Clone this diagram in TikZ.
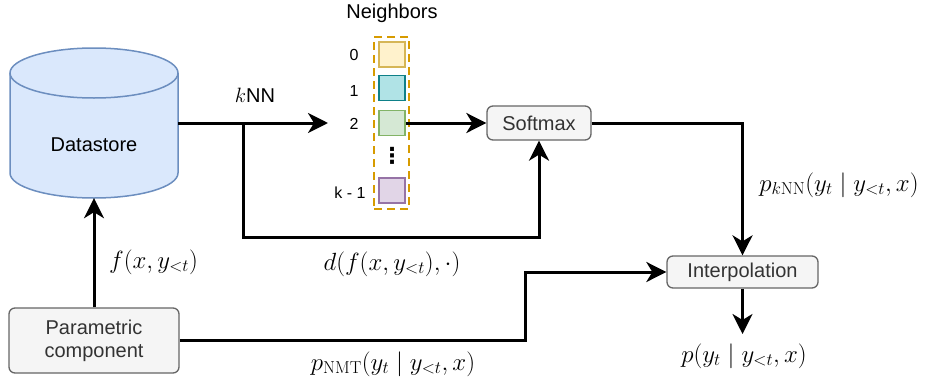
\documentclass[tikz,border=0pt]{standalone}
\usepackage[no-math]{fontspec}
\setmainfont{Liberation Sans}
\newfontfamily\dejavu{DejaVu Sans}
\usetikzlibrary{arrows.meta}
\definecolor{dsfill}{HTML}{DAE8FC}
\definecolor{dsline}{HTML}{6C8EBF}
\definecolor{boxfill}{HTML}{F5F5F5}
\definecolor{boxline}{HTML}{666666}
\definecolor{boxtext}{HTML}{333333}
\definecolor{nbline}{HTML}{D79B00}
\definecolor{yfill}{HTML}{FFF2CC}\definecolor{yline}{HTML}{D6B656}
\definecolor{cfill}{HTML}{B0E3E6}\definecolor{cline}{HTML}{0E8088}
\definecolor{gfill}{HTML}{D5E8D4}\definecolor{gline}{HTML}{82B366}
\definecolor{pfill}{HTML}{E1D5E7}\definecolor{pline}{HTML}{9673A6}
\tikzset{
  arr/.style={line width=3pt,-{Stealth[length=20pt,width=20pt,inset=6pt]}},
  procbox/.style={draw=boxline,fill=boxfill,text=boxtext,rounded corners=6pt,line width=1.3pt,font=\fontsize{20}{23}\selectfont,align=center,inner sep=0pt},
  nsq/.style={line width=1.5pt,minimum width=26pt,minimum height=25pt,inner sep=0pt},
  idx/.style={font=\fontsize{16}{18}\selectfont,inner sep=0pt},
  lbl/.style={font=\fontsize{24}{28}\selectfont,inner sep=0pt},
}
\begin{document}
\begin{tikzpicture}[x=1pt,y=-1pt]
\useasboundingbox (0,0) rectangle (925,383);
% Datastore cylinder
\path[fill=dsfill] (10,73) -- (10,173) arc[start angle=180,end angle=360,x radius=84pt,y radius=25pt] -- (178,73) -- cycle;
\draw[draw=dsline,line width=1.5pt] (10,73) -- (10,173) arc[start angle=180,end angle=360,x radius=84pt,y radius=25pt] -- (178,73);
\draw[draw=dsline,fill=dsfill,line width=1.5pt] (94,73) ellipse[x radius=84pt,y radius=25pt];
\node[minimum width=168pt,minimum height=150pt,inner sep=0pt] (ds) at (94,123) {};
\node[font=\fontsize{20}{23}\selectfont] (dstext) at (94,145) {Datastore};
% Neighbors
\node[font=\fontsize{20}{23}\selectfont] (nbtitle) at (392,13) {Neighbors};
\node[draw=nbline,dash pattern=on 8pt off 5pt,line width=2.5pt,minimum width=35pt,minimum height=172pt,inner sep=0pt] (nb) at (391.5,123) {};
\node[nsq,draw=yline,fill=yfill] (s0) at (392,54.5) {};
\node[nsq,draw=cline,fill=cfill] (s1) at (392,88) {};
\node[nsq,draw=gline,fill=gfill] (s2) at (392,123) {};
\node[nsq,draw=pline,fill=pfill] (sk) at (392,190.5) {};
\node[font=\fontsize{22}{24}\selectfont\dejavu\bfseries,inner sep=0pt] (dots) at (392,156) {⋮};
\node[idx] (i0) at (354,55) {0};
\node[idx] (i1) at (354,91) {1};
\node[idx] (i2) at (354,124) {2};
\node[idx] (ik) at (350,193) {k - 1};
% process boxes
\node[procbox,minimum width=104pt,minimum height=34pt] (softmax) at (539,123) {Softmax};
\node[procbox,minimum width=151pt,minimum height=32pt] (interp) at (742.5,272) {Interpolation};
\node[procbox,minimum width=170pt,minimum height=65pt] (param) at (94,340.5) {Parametric\\component};
% coordinates
\coordinate (knnend) at (328,123);
\coordinate (br) at (243,123);
\coordinate (dcorner) at (243,237);
\coordinate (pmid) at (525,0);
\coordinate (out) at (742.5,334);
% connectors
\draw[arr] (ds.east) -- (knnend);
\draw[arr] (br) -- (dcorner) -| (softmax.south);
\draw[arr] (s2.east) -- (softmax.west);
\draw[arr] (softmax.east) -| (interp.north);
\draw[arr] (param.east) -| (pmid |- interp.west) -- (interp.west);
\draw[arr] (interp.south) -- (out);
\draw[arr] (param.north) -- (ds.south);
% labels
\node[font=\fontsize{20}{24}\selectfont,inner sep=0pt] (lknn) at (255,95) {$k$NN};
\node[lbl] (lf) at (153.5,262) {$f(x,y_{<t})$};
\node[lbl] (ld) at (392,264) {$d(f(x,y_{<t}),\cdot)$};
\node[lbl] (lpknn) at (839,185) {$p_{k\mathrm{NN}}(y_t\mid y_{<t},x)$};
\node[lbl] (lpnmt) at (393,364) {$p_{\mathrm{NMT}}(y_t\mid y_{<t},x)$};
\node[lbl] (lp) at (744,356) {$p(y_t\mid y_{<t},x)$};
\end{tikzpicture}
\end{document}
